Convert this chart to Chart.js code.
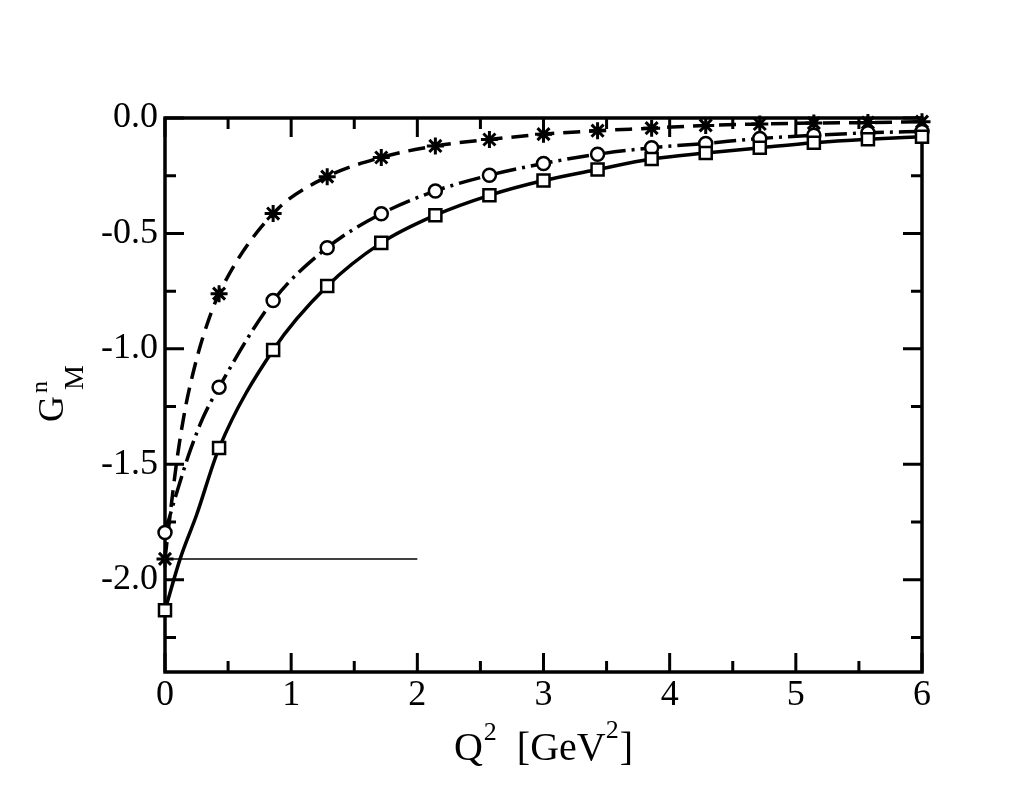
<!DOCTYPE html>
<html>
<head>
<meta charset="utf-8">
<script src="https://cdn.jsdelivr.net/npm/chart.js@4/dist/chart.umd.min.js"></script>
<style>
    html, body { margin: 0; padding: 0; background: #fff; }
    #wrap { width: 1021px; height: 789px; }
</style>
</head>
<body>
<div id="wrap"><canvas id="grafico" width="1021" height="789"></canvas></div>
<script>
// ================= DADOS =================
const q2Pontos = [0, 0.4286, 0.8571, 1.2857, 1.7143, 2.1429, 2.5714, 3.0, 3.4286, 3.8571, 4.2857, 4.7143, 5.1429, 5.5714, 6.0];
const gmEstrelas = [-1.910, -0.761, -0.414, -0.254, -0.171, -0.121, -0.093, -0.070, -0.055, -0.044, -0.032, -0.026, -0.022, -0.020, -0.016];
const gmCirculos = [-1.796, -1.166, -0.791, -0.562, -0.415, -0.316, -0.248, -0.197, -0.157, -0.129, -0.110, -0.089, -0.075, -0.064, -0.058];
const gmQuadrados = [-2.132, -1.430, -1.005, -0.728, -0.541, -0.421, -0.335, -0.271, -0.223, -0.178, -0.152, -0.129, -0.107, -0.092, -0.081];

// pontos da curva sem marcador perto de Q2 = 0
const extraEstrelasQ2 = [0.06, 0.10, 0.16, 0.22, 0.30];
const extraEstrelasGm = [-1.63, -1.46, -1.26, -1.11, -0.95];
const extraCirculosQ2 = [0.10, 0.20, 0.30];
const extraCirculosGm = [-1.61, -1.44, -1.30];
const extraQuadradosQ2 = [0.12, 0.25];
const extraQuadradosGm = [-1.91, -1.72];

// linha horizontal fina
const linhaQ2 = [0, 2];
const linhaGm = [-1.91, -1.91];

const ticksX = [0, 1, 2, 3, 4, 5, 6];
const ticksY = [0, -0.5, -1.0, -1.5, -2.0];

const FONTE = '"Liberation Serif", "DejaVu Serif", serif';

function pontos(xs, ys) {
    return xs.map((x, i) => ({ x: x, y: ys[i] }));
}

function curva(xs, ys, ex, ey) {
    return pontos(xs, ys).concat(pontos(ex, ey)).sort((a, b) => a.x - b.x);
}

/* ===== MOLDURA E TICKS ===== */
const moldura = {
    id: "moldura",
    beforeDatasetsDraw(chart) {
        const { ctx, chartArea: a, scales: { x, y } } = chart;
        ctx.save();
        ctx.strokeStyle = "#000";
        ctx.lineWidth = 3;
        ctx.beginPath();
        for (let v = 0; v <= 6; v += 0.5) {
            const len = Number.isInteger(v) ? 19 : 11;
            const px = x.getPixelForValue(v);
            ctx.moveTo(px, a.bottom); ctx.lineTo(px, a.bottom - len);
            ctx.moveTo(px, a.top); ctx.lineTo(px, a.top + len);
        }
        for (let v = 0; v >= -2.25; v -= 0.25) {
            const len = Number.isInteger(v * 2) ? 19 : 11;
            const py = y.getPixelForValue(v);
            ctx.moveTo(a.left, py); ctx.lineTo(a.left + len, py);
            ctx.moveTo(a.right, py); ctx.lineTo(a.right - len, py);
        }
        ctx.stroke();
        ctx.lineWidth = 3.5;
        ctx.strokeRect(a.left, a.top, a.right - a.left, a.bottom - a.top);
        ctx.restore();
    }
};

/* ===== TÍTULOS DOS EIXOS ===== */
function medir(ctx, partes) {
    let total = 0;
    partes.forEach(p => {
        ctx.font = p.size + "px " + FONTE;
        p.w = ctx.measureText(p.t).width;
        if (!p.stack) total += p.w + (p.gap || 0);
    });
    return total;
}

function escrever(ctx, partes, x0) {
    let x = x0;
    partes.forEach(p => {
        ctx.font = p.size + "px " + FONTE;
        x += p.gap || 0;
        ctx.fillText(p.t, x, p.dy);
        if (!p.stack) x += p.w;
    });
}

const titulos = {
    id: "titulos",
    afterDraw(chart) {
        const { ctx, chartArea: a } = chart;
        ctx.save();
        ctx.fillStyle = "#000";
        ctx.textBaseline = "alphabetic";
        ctx.textAlign = "left";

        const tx = [
            { t: "Q", size: 40, dy: 0 },
            { t: "2", size: 26, dy: -20, gap: 1 },
            { t: "  [GeV", size: 40, dy: 0 },
            { t: "2", size: 26, dy: -22 },
            { t: "]", size: 40, dy: 0, gap: 1 }
        ];
        const wx = medir(ctx, tx);
        ctx.save();
        ctx.translate((a.left + a.right) / 2 - wx / 2, 760);
        escrever(ctx, tx, 0);
        ctx.restore();

        const ty = [
            { t: "G", size: 36, dy: 0 },
            { t: "n", size: 24, dy: -16, gap: 3, stack: true },
            { t: "M", size: 28, dy: 20, gap: 3 }
        ];
        const wy = medir(ctx, ty);
        ctx.save();
        ctx.translate(63, (a.top + a.bottom) / 2);
        ctx.rotate(-Math.PI / 2);
        escrever(ctx, ty, -wy / 2);
        ctx.restore();

        ctx.restore();
    }
};

/* ===== GRÁFICO ===== */
const preto = "#000";

new Chart(document.getElementById("grafico"), {
    type: "scatter",
    data: {
        datasets: [
            {
                data: pontos(q2Pontos, gmQuadrados),
                showLine: false, pointStyle: "rect", pointRadius: 8.5,
                pointBackgroundColor: "#fff", pointBorderColor: preto, pointBorderWidth: 2.5,
                clip: false, order: 1
            },
            {
                data: pontos(q2Pontos, gmCirculos),
                showLine: false, pointStyle: "circle", pointRadius: 6.5,
                pointBackgroundColor: "#fff", pointBorderColor: preto, pointBorderWidth: 2.5,
                clip: false, order: 1
            },
            {
                data: pontos(q2Pontos, gmEstrelas),
                showLine: false, pointStyle: "star", pointRadius: 8.5,
                pointBackgroundColor: preto, pointBorderColor: preto, pointBorderWidth: 3,
                clip: false, order: 1
            },
            {
                data: curva(q2Pontos, gmQuadrados, extraQuadradosQ2, extraQuadradosGm),
                showLine: true, pointRadius: 0, borderColor: preto, borderWidth: 3.5,
                cubicInterpolationMode: "monotone", order: 2
            },
            {
                data: curva(q2Pontos, gmCirculos, extraCirculosQ2, extraCirculosGm),
                showLine: true, pointRadius: 0, borderColor: preto, borderWidth: 3.5,
                borderDash: [22, 6, 3, 6],
                cubicInterpolationMode: "monotone", order: 2
            },
            {
                data: curva(q2Pontos, gmEstrelas, extraEstrelasQ2, extraEstrelasGm),
                showLine: true, pointRadius: 0, borderColor: preto, borderWidth: 3.5,
                borderDash: [17, 9],
                cubicInterpolationMode: "monotone", order: 2
            },
            {
                data: pontos(linhaQ2, linhaGm),
                showLine: true, pointRadius: 0, borderColor: preto, borderWidth: 1.5,
                order: 3
            }
        ]
    },
    options: {
        responsive: false,
        animation: false,
        devicePixelRatio: 1,
        layout: { padding: { top: 118, right: 99, left: 0, bottom: 0 } },
        plugins: { legend: { display: false }, tooltip: { enabled: false } },
        scales: {
            x: {
                type: "linear", min: 0, max: 6,
                grid: { display: false }, border: { display: false },
                afterBuildTicks: s => { s.ticks = ticksX.map(v => ({ value: v })); },
                afterFit: s => { s.height = 117; },
                ticks: {
                    color: preto, padding: -6,
                    font: { family: FONTE, size: 36 },
                    callback: v => String(v)
                }
            },
            y: {
                type: "linear", min: -2.4, max: 0,
                grid: { display: false }, border: { display: false },
                afterBuildTicks: s => { s.ticks = ticksY.map(v => ({ value: v })); },
                afterFit: s => { s.width = 165; },
                ticks: {
                    color: preto, padding: -1,
                    font: { family: FONTE, size: 36 },
                    callback: v => v.toFixed(1)
                }
            }
        }
    },
    plugins: [moldura, titulos]
});
</script>
</body>
</html>
